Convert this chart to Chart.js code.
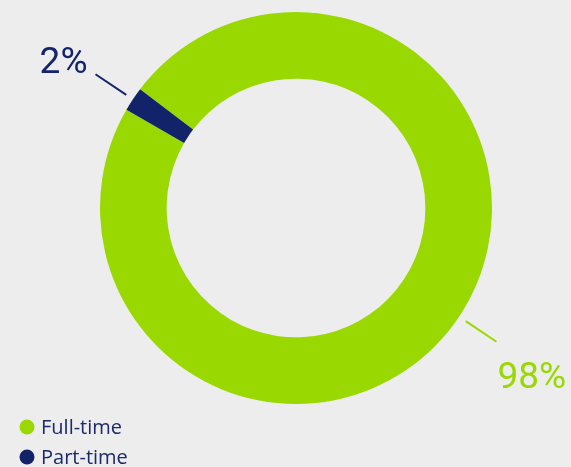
<!DOCTYPE html>
<html>
<head>
<meta charset="utf-8">
<script src="https://cdn.jsdelivr.net/npm/chart.js@4/dist/chart.umd.min.js"></script>
<style>
  html, body { margin: 0; padding: 0; background: #ededed; }
  #wrap { width: 571px; height: 467px; position: relative; }
</style>
</head>
<body>
<div id="wrap"><canvas id="donut"></canvas></div>
<script>
var categories = ['Full-time', 'Part-time'];
var shares = [98, 2];
var sliceColors = ['#99d800', '#12236a'];
var labelColors = ['#99d800', '#13246b'];

// value labels with a short leader line, placed along each slice's mid angle
var sliceLabels = {
    id: 'sliceLabels',
    afterDatasetsDraw: function(chart) {
        var ctx = chart.ctx;
        var meta = chart.getDatasetMeta(0);
        meta.data.forEach(function(arc, i) {
            var p = arc.getProps(['x', 'y', 'startAngle', 'endAngle', 'outerRadius'], true);
            var mid = (p.startAngle + p.endAngle) / 2;
            var cos = Math.cos(mid), sin = Math.sin(mid);
            var r0 = p.outerRadius + 8, r1 = p.outerRadius + 45;
            var x1 = p.x + cos * r1, y1 = p.y + sin * r1;
            ctx.save();
            ctx.strokeStyle = labelColors[i];
            ctx.lineWidth = 2;
            ctx.beginPath();
            ctx.moveTo(p.x + cos * r0, p.y + sin * r0);
            ctx.lineTo(x1, y1);
            ctx.stroke();
            ctx.fillStyle = labelColors[i];
            ctx.font = '37px Roboto';
            ctx.textBaseline = 'alphabetic';
            if (cos < 0) {
                ctx.textAlign = 'right';
                ctx.fillText(shares[i] + '%', x1 - 8, y1 - 1);
            } else {
                ctx.textAlign = 'left';
                ctx.fillText(shares[i] + '%', x1 + 1, y1 + 46);
            }
            ctx.restore();
        });
    }
};

// stacked legend in the bottom-left corner
var sideLegend = {
    id: 'sideLegend',
    afterDraw: function(chart) {
        var ctx = chart.ctx;
        ctx.save();
        categories.forEach(function(name, i) {
            var cy = 427 + i * 30;
            ctx.fillStyle = sliceColors[i];
            ctx.beginPath();
            ctx.arc(27, cy, 7.5, 0, Math.PI * 2);
            ctx.fill();
            ctx.fillStyle = '#1b2a6b';
            ctx.font = '20px "Open Sans"';
            ctx.textAlign = 'left';
            ctx.textBaseline = 'middle';
            ctx.fillText(name, 41, cy + 1);
        });
        ctx.restore();
    }
};

new Chart(document.getElementById('donut'), {
    type: 'doughnut',
    data: {
        labels: categories,
        datasets: [{
            data: shares,
            backgroundColor: sliceColors,
            borderWidth: 0
        }]
    },
    options: {
        responsive: true,
        maintainAspectRatio: false,
        animation: false,
        cutout: '66%',
        rotation: -52.7,
        layout: { padding: { left: 100, right: 79, top: 12, bottom: 63 } },
        plugins: {
            legend: { display: false },
            tooltip: { enabled: false }
        }
    },
    plugins: [sliceLabels, sideLegend]
});
</script>
</body>
</html>
